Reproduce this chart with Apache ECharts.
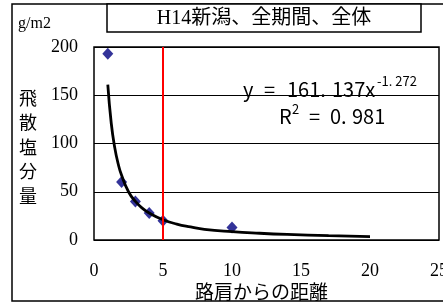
<!DOCTYPE html>
<html>
<head>
<meta charset="utf-8">
<script src="https://cdn.jsdelivr.net/npm/echarts@6/dist/echarts.min.js"></script>
<style>
  html, body { margin: 0; padding: 0; background: #fff; }
  #chart { width: 443px; height: 304px; }
</style>
</head>
<body>
<div id="chart"></div>
<script>
// 実測値 (距離, 飛散塩分量)
var distX = [1, 2, 3, 4, 5, 10];
var saltY = [193, 60, 40, 28, 20, 13];
// 近似曲線
var trendX = [1, 1.25, 1.5, 1.75, 2, 2.5, 3, 3.5, 4, 5, 6, 7, 8, 10, 12, 14, 17, 20];
var trendY = [161, 121, 96, 79, 67, 50, 40, 33, 28, 21, 16.5, 13.5, 11, 8.6, 7, 5.8, 4.5, 3.6];
var xTicks = [0, 5, 10, 15, 20, 25];
var yTicks = [0, 50, 100, 150, 200];
var lineX = 5;

var chart = echarts.init(document.getElementById('chart'));
var serif = '"Liberation Serif", "Noto Sans CJK JP", serif';
var gothic = '"Noto Sans CJK JP", sans-serif';

// 数式の文字片
function eq(str, x, y, size) {
  return { type: 'text', x: x, y: y,
    style: { text: str, font: size + 'px ' + gothic, fill: '#000', verticalAlign: 'middle' } };
}

chart.setOption({
  animation: false,
  backgroundColor: '#fff',
  grid: {
    left: 94, top: 47, right: 4, bottom: 64,
    outerBoundsMode: 'none', containLabel: false,
    show: true, borderColor: '#000', borderWidth: 1.5
  },
  xAxis: {
    type: 'value', min: xTicks[0], max: xTicks[xTicks.length - 1], interval: 5,
    name: '路肩からの距離', nameLocation: 'middle', nameGap: 45, nameMoveOverlap: false,
    nameTextStyle: { fontFamily: serif, fontSize: 19, color: '#000', padding: [0, 10, 0, 0] },
    axisLine: { show: false },
    axisTick: { show: false },
    splitLine: { show: false },
    axisLabel: { fontFamily: serif, fontSize: 18, color: '#000', margin: 22 }
  },
  yAxis: {
    type: 'value', min: yTicks[0], max: yTicks[yTicks.length - 1], interval: 50,
    axisLine: { show: false },
    axisTick: { show: false },
    splitLine: { show: true, lineStyle: { color: '#000', width: 1 } },
    axisLabel: { fontFamily: serif, fontSize: 18, color: '#000', margin: 16 }
  },
  graphic: [
    { type: 'rect', shape: { x: 12, y: 4, width: 440, height: 297 },
      style: { fill: 'none', stroke: '#000', lineWidth: 1.5 }, z: -1 },
    { type: 'rect', shape: { x: 107, y: 4, width: 314, height: 28 },
      style: { fill: '#fff', stroke: '#000', lineWidth: 1.5 } },
    { type: 'text', x: 264, y: 19,
      style: { text: 'H14新潟、全期間、全体', font: '20px ' + serif, fill: '#000',
               align: 'center', verticalAlign: 'middle' } },
    { type: 'text', x: 18, y: 24,
      style: { text: 'g/m2', font: '16px ' + serif, fill: '#000', verticalAlign: 'middle' } },
    { type: 'text', x: 28, y: 149,
      style: { text: '飛\n散\n塩\n分\n量', font: '18px ' + serif, fill: '#000',
               align: 'center', verticalAlign: 'middle', lineHeight: 24.5 } },
    { type: 'rect', shape: { x: 236, y: 76, width: 192, height: 26 },
      style: { fill: '#fff' } },
    eq('y', 243, 89, 20),
    eq('=', 264, 89, 20),
    eq('161.', 287, 89, 20),
    eq('137x', 332, 89, 20),
    eq('-1. 272', 377, 81, 13),
    eq('R', 279, 116, 20),
    eq('2', 292, 109, 13),
    eq('=', 309, 116, 20),
    eq('0.', 330, 116, 20),
    eq('981', 352, 116, 20)
  ],
  series: [
    {
      type: 'line',
      data: trendX.map(function (x, i) { return [x, trendY[i]]; }),
      showSymbol: false,
      smooth: true,
      lineStyle: { color: '#000', width: 2.8 },
      z: 3,
      markLine: {
        silent: true, symbol: 'none', label: { show: false },
        lineStyle: { color: '#ff0000', width: 2, type: 'solid' },
        data: [{ xAxis: lineX }]
      }
    },
    {
      type: 'scatter',
      data: distX.map(function (x, i) { return [x, saltY[i]]; }),
      symbol: 'diamond',
      symbolSize: [11, 12],
      itemStyle: { color: '#000080' },
      z: 2
    }
  ]
});
</script>
</body>
</html>
